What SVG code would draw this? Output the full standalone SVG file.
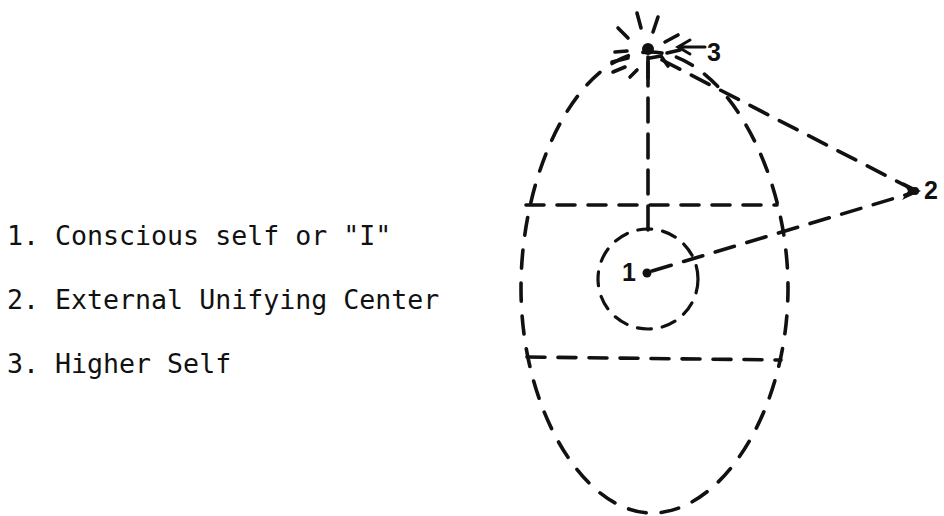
<svg xmlns="http://www.w3.org/2000/svg" width="944" height="516" viewBox="0 0 944 516">
<style>
.d{fill:none;stroke:#111;stroke-width:3.6;stroke-linecap:round;stroke-dasharray:18 13}
.s{fill:none;stroke:#111;stroke-width:3.6;stroke-linecap:round}
.leg{font-family:"DejaVu Sans Mono",monospace;font-size:26.6px;fill:#111}
.num{font-family:"Liberation Sans",Arial,sans-serif;font-weight:bold;font-size:25px;fill:#111}
</style>
<rect width="944" height="516" fill="#fff"/>
<g id="legend">
<text class="leg" x="7" y="245">1. Conscious self or "I"</text>
<text class="leg" x="7" y="309">2. External Unifying Center</text>
<text class="leg" x="7" y="373">3. Higher Self</text>
</g>
<g id="psyche">
<path class="d" d="M 650 52 C 722 52 788 168 788 288 C 788 410 722 513 652 513 C 584 513 521 410 521 288 C 521 168 580 52 650 52 Z" stroke-dashoffset="6" style="stroke-dasharray:18 15"/>
<line class="d" x1="526" y1="205" x2="777" y2="205"/>
<line class="d" x1="527" y1="357" x2="781" y2="360"/>
<circle class="d" cx="648" cy="279" r="50" style="stroke-width:3.2;stroke-dasharray:14 11"/>
</g>
<g id="connectors">
<line class="d" x1="648" y1="62" x2="648" y2="238" style="stroke-dasharray:24 12"/>
<line class="d" x1="662" y1="60" x2="912" y2="189" style="stroke-dasharray:20 13"/>
<line class="d" x1="652" y1="271" x2="912" y2="193" style="stroke-dasharray:20 13"/>
</g>
<g id="node-3">
<circle cx="648" cy="49" r="6" fill="#111"/>
<path class="s" d="M637 13 L641 28 M658 17 L653 32 M618 28 L628 38 M665 42 L678 35 M615 52 L627 51 M667 53 L680 50 M612 62 L628 58 M613 72 L625 67 M630 77 L637 70 M648 57 L648 78 M650 58 L661 56 L668 66"/>
<path class="s" d="M678 47 L705 47 M690 40 L678 47 L690 54" style="stroke-width:3"/>
<text class="num" x="707" y="61">3</text>
</g>
<g id="node-2">
<polygon points="921,191 903,182 908,191 902,200" fill="#111"/>
<circle cx="915" cy="191" r="4" fill="#111"/>
<text class="num" x="924" y="199">2</text>
</g>
<g id="node-1">
<circle cx="647" cy="273" r="4.5" fill="#111"/>
<text class="num" x="622" y="281">1</text>
</g>
</svg>
